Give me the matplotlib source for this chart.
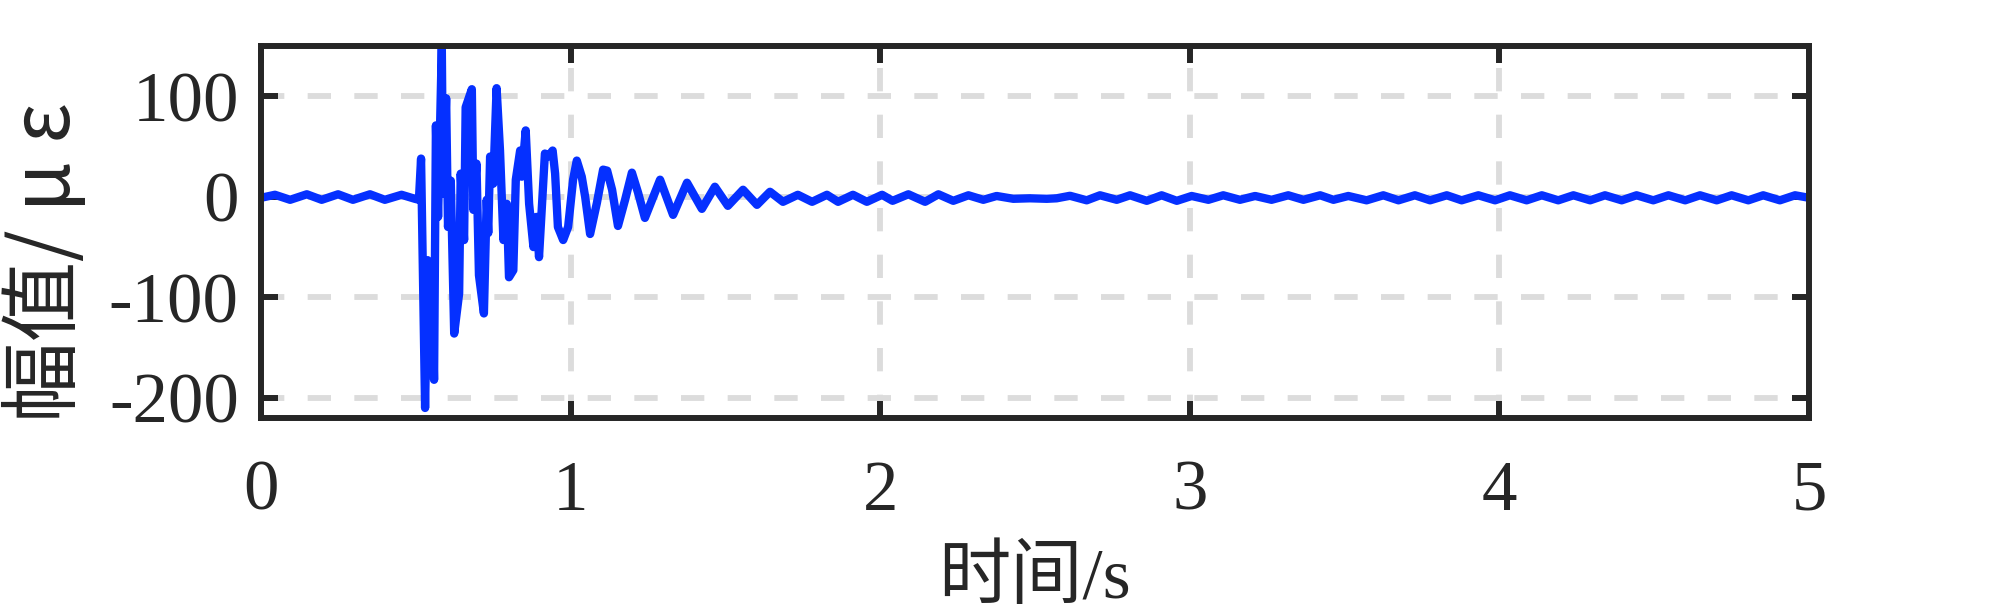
import numpy as np
import matplotlib
matplotlib.use("Agg")
import matplotlib.pyplot as plt

# 读图得到的应变时程（峰/谷点），单位 s / με
time_s = [
    0.000, 0.045, 0.094, 0.148, 0.196, 0.249, 0.297, 0.352, 0.400, 0.454, 0.497, 0.510,
    0.517, 0.530, 0.538, 0.546, 0.551, 0.559, 0.565, 0.572, 0.584, 0.588, 0.598, 0.604,
    0.613, 0.624, 0.640, 0.645, 0.656, 0.661, 0.681, 0.686, 0.696, 0.704, 0.720, 0.729,
    0.734, 0.740, 0.750, 0.761, 0.772, 0.783, 0.794, 0.801, 0.815, 0.823, 0.837, 0.842,
    0.855, 0.866, 0.880, 0.890, 0.898, 0.917, 0.927, 0.942, 0.950, 0.959, 0.976, 0.992,
    1.008, 1.020, 1.036, 1.047, 1.063, 1.085, 1.105, 1.118, 1.134, 1.153, 1.176, 1.198,
    1.218, 1.240, 1.289, 1.331, 1.376, 1.424, 1.466, 1.508, 1.557, 1.602, 1.644, 1.686,
    1.734, 1.780, 1.828, 1.864, 1.912, 1.957, 2.006, 2.040,
    2.091, 2.145, 2.188, 2.236, 2.285, 2.333, 2.376, 2.430, 2.484, 2.538, 2.570, 2.613,
    2.667, 2.710, 2.764, 2.807, 2.861, 2.909, 2.958, 3.006, 3.060, 3.108, 3.162, 3.211,
    3.264, 3.318, 3.367, 3.421, 3.464, 3.512, 3.571, 3.625, 3.674, 3.727, 3.776, 3.830,
    3.878, 3.932, 3.986, 4.034, 4.088, 4.137, 4.190, 4.239, 4.293, 4.341, 4.395, 4.443,
    4.497, 4.546, 4.600, 4.648, 4.702, 4.750, 4.804, 4.852, 4.906, 4.955, 5.000,
]
strain_ue = [
    -1, 2, -3, 2.5, -3, 2.5, -3, 2.5, -3, 2, -2, -3,
    38, -210, -63, -110, -70, -182, 71, -20, 150, 3, 98, -30,
    16, -136, -96, 23, -43, 89, 107, -13, 33, -78, -116, -3,
    -36, 40, 13, 108, 46, -43, -7, -80, -73, 17, 46, 20,
    66, -7, -50, -20, -60, 43, 40, 46, 23, -30, -43, -30,
    17, 36, 20, 0, -37, -6, 27, 26, 7, -29, -3, 24,
    4, -21, 17, -18, 14, -12, 10, -9, 7, -8, 5, -5,
    2, -5, 2, -5, 2, -5, 2, -4,
    2.5, -5, 2.5, -4, 1.5, -3, 0.8, -2, -1.5, -2, -1.5, 1,
    -3.5, 1.5, -3, 1.5, -4, 1.5, -4, 0.8, -3, 1.5, -3, 0.8,
    -3, 1.5, -3, 1.5, -3, 0.8, -3.5, 1.5, -3.5, 1.5, -3.5, 1.5,
    -3.5, 1.5, -3.5, 1.5, -3.5, 1.5, -3.5, 1.5, -3.5, 1.5, -3.5, 1.5,
    -3.5, 1.5, -3.5, 1.5, -3.5, 1.5, -3.5, 1.5, -3.5, 1.5, -1,
]
x_ticks = [0, 1, 2, 3, 4, 5]
y_ticks = [-200, -100, 0, 100]

plt.rcParams['font.family'] = ['Liberation Serif', 'Noto Sans CJK SC']
plt.rcParams['axes.unicode_minus'] = False

dark = '#262626'
fig = plt.figure(figsize=(20, 6.16), dpi=100)
ax = fig.add_axes([0.1305, 0.3214, 0.774, 0.604])

ax.plot(time_s, strain_ue, color='#0530ff', linewidth=6.0,
        solid_joinstyle='round', solid_capstyle='round')

ax.set_xlim(0, 5)
ax.set_ylim(-220, 150)
ax.set_xticks(x_ticks)
ax.set_yticks(y_ticks)
ax.set_axisbelow(True)
ax.grid(True, color='#dcdcdc', linestyle=(0, (4, 4)), linewidth=4.2)

for sp in ax.spines.values():
    sp.set_linewidth(4.3)
    sp.set_color(dark)
ax.tick_params(direction='in', length=12, width=4.3, top=True, right=True,
               colors=dark, labelsize=51)
ax.tick_params(axis='x', pad=30)
ax.tick_params(axis='y', pad=16)

ax.set_xlabel('时间/s', fontsize=52, color=dark)
ax.xaxis.set_label_coords(0.5, -0.345)
ax.xaxis.label.set_va('top')
ax.set_ylabel('幅值/ μ ε', fontsize=58, color=dark,
              family=['Noto Sans CJK SC', 'Liberation Serif'])
ax.yaxis.set_label_coords(-0.112, 0.42)

fig.savefig('out.png', dpi=100)
